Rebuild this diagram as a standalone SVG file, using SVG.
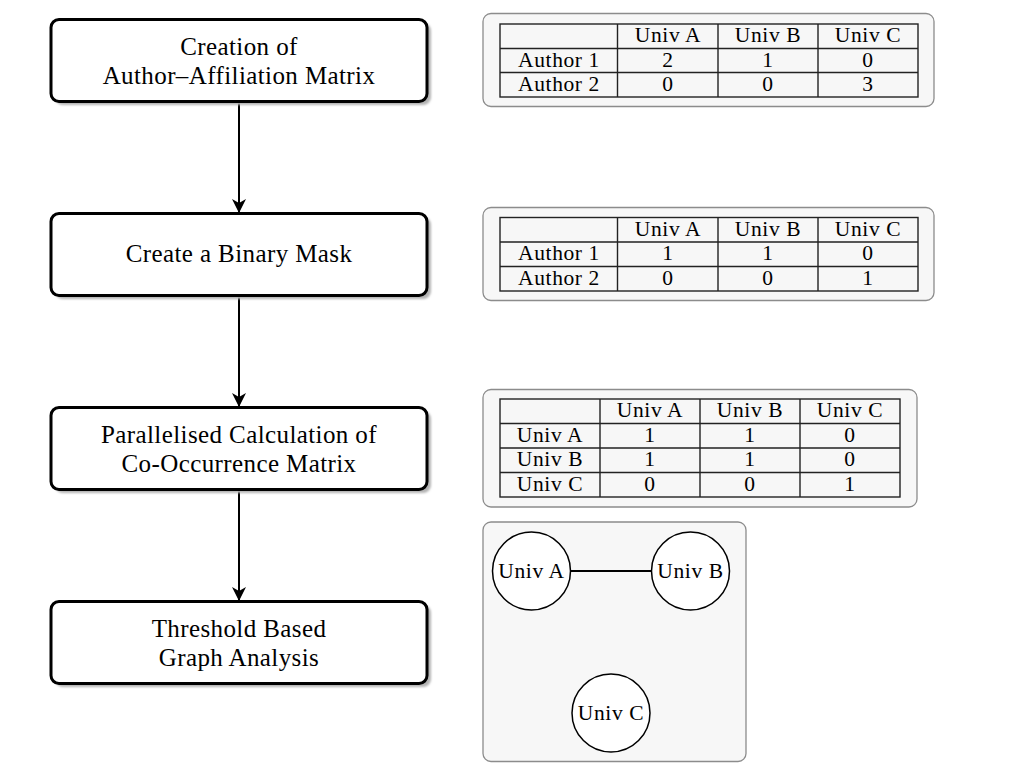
<svg xmlns="http://www.w3.org/2000/svg" width="1020" height="768" viewBox="0 0 1020 768">
<defs>
<style>
.box{fill:#fff;stroke:#000;stroke-width:3}
.shadow{fill:#b3b3b3}
.bt{font-family:"Liberation Serif","DejaVu Serif",serif;font-size:25px;letter-spacing:0.4px;text-anchor:middle;fill:#000}
.panel{fill:#f7f7f7;stroke:#8c8c8c;stroke-width:1.3}
.tbl{fill:none;stroke:#222;stroke-width:1.4}
.tt{font-family:"Liberation Serif","DejaVu Serif",serif;font-size:21.5px;letter-spacing:0.6px;text-anchor:middle;fill:#000}
.conn{stroke:#000;stroke-width:2;fill:none}
.circ{fill:#fff;stroke:#000;stroke-width:1.5}
</style>
<filter id="blur" x="-10%" y="-10%" width="120%" height="130%"><feGaussianBlur stdDeviation="1.2"/></filter>
<marker id="arr" viewBox="0 0 14 14" refX="13" refY="7" markerWidth="14" markerHeight="14" markerUnits="userSpaceOnUse" orient="auto">
<path d="M0,0 L14,7 L0,14 L4,7 Z" fill="#000"/>
</marker>
</defs>
<rect width="1020" height="768" fill="#fff"/>

<g id="connectors">
<line class="conn" x1="239" y1="102" x2="239" y2="212" marker-end="url(#arr)"/>
<line class="conn" x1="239" y1="296" x2="239" y2="406" marker-end="url(#arr)"/>
<line class="conn" x1="239" y1="490" x2="239" y2="600" marker-end="url(#arr)"/>
</g>

<g id="step1">
<rect class="shadow" x="55" y="23" width="376" height="82" rx="8" filter="url(#blur)"/>
<rect class="box" x="51" y="19.5" width="376" height="82" rx="8"/>
<text class="bt" x="239" y="55">Creation of</text>
<text class="bt" x="239" y="84">Author–Affiliation Matrix</text>
</g>
<g id="step2">
<rect class="shadow" x="55" y="217" width="376" height="82" rx="8" filter="url(#blur)"/>
<rect class="box" x="51" y="213.5" width="376" height="82" rx="8"/>
<text class="bt" x="239" y="262">Create a Binary Mask</text>
</g>
<g id="step3">
<rect class="shadow" x="55" y="411" width="376" height="82" rx="8" filter="url(#blur)"/>
<rect class="box" x="51" y="407.5" width="376" height="82" rx="8"/>
<text class="bt" x="239" y="443">Parallelised Calculation of</text>
<text class="bt" x="239" y="472">Co-Occurrence Matrix</text>
</g>
<g id="step4">
<rect class="shadow" x="55" y="605" width="376" height="82" rx="8" filter="url(#blur)"/>
<rect class="box" x="51" y="601.5" width="376" height="82" rx="8"/>
<text class="bt" x="239" y="637">Threshold Based</text>
<text class="bt" x="239" y="666">Graph Analysis</text>
</g>

<g id="table1">
<rect class="panel" x="483" y="13.5" width="451" height="93" rx="8"/>
<rect class="tbl" x="500" y="24" width="418" height="73"/>
<path class="tbl" d="M500,48.5H918M500,72.5H918M617.5,24V97M718,24V97M818,24V97"/>
<text class="tt" x="668" y="42">Univ A</text>
<text class="tt" x="768" y="42">Univ B</text>
<text class="tt" x="868" y="42">Univ C</text>
<text class="tt" x="559" y="67">Author 1</text>
<text class="tt" x="668" y="67">2</text>
<text class="tt" x="768" y="67">1</text>
<text class="tt" x="868" y="67">0</text>
<text class="tt" x="559" y="91">Author 2</text>
<text class="tt" x="668" y="91">0</text>
<text class="tt" x="768" y="91">0</text>
<text class="tt" x="868" y="91">3</text>
</g>

<g id="table2">
<rect class="panel" x="483" y="207.5" width="451" height="93" rx="8"/>
<rect class="tbl" x="500" y="217.5" width="418" height="73.5"/>
<path class="tbl" d="M500,242H918M500,266.5H918M617.5,217.5V291M718,217.5V291M818,217.5V291"/>
<text class="tt" x="668" y="236">Univ A</text>
<text class="tt" x="768" y="236">Univ B</text>
<text class="tt" x="868" y="236">Univ C</text>
<text class="tt" x="559" y="260">Author 1</text>
<text class="tt" x="668" y="260">1</text>
<text class="tt" x="768" y="260">1</text>
<text class="tt" x="868" y="260">0</text>
<text class="tt" x="559" y="285">Author 2</text>
<text class="tt" x="668" y="285">0</text>
<text class="tt" x="768" y="285">0</text>
<text class="tt" x="868" y="285">1</text>
</g>

<g id="table3">
<rect class="panel" x="483" y="389.5" width="434" height="117.5" rx="8"/>
<rect class="tbl" x="500" y="399" width="400" height="98"/>
<path class="tbl" d="M500,423.5H900M500,448H900M500,472.5H900M600,399V497M700,399V497M800,399V497"/>
<text class="tt" x="650" y="417">Univ A</text>
<text class="tt" x="750" y="417">Univ B</text>
<text class="tt" x="850" y="417">Univ C</text>
<text class="tt" x="550" y="442">Univ A</text>
<text class="tt" x="650" y="442">1</text>
<text class="tt" x="750" y="442">1</text>
<text class="tt" x="850" y="442">0</text>
<text class="tt" x="550" y="466">Univ B</text>
<text class="tt" x="650" y="466">1</text>
<text class="tt" x="750" y="466">1</text>
<text class="tt" x="850" y="466">0</text>
<text class="tt" x="550" y="491">Univ C</text>
<text class="tt" x="650" y="491">0</text>
<text class="tt" x="750" y="491">0</text>
<text class="tt" x="850" y="491">1</text>
</g>

<g id="graph">
<rect class="panel" x="483" y="522" width="263" height="239.5" rx="8"/>
<line x1="570" y1="571" x2="652" y2="571" stroke="#000" stroke-width="2.2"/>
<g id="univA">
<circle class="circ" cx="531.5" cy="571" r="39"/>
<text class="tt" x="531.5" y="578">Univ A</text>
</g>
<g id="univB">
<circle class="circ" cx="690.5" cy="571" r="39"/>
<text class="tt" x="690.5" y="578">Univ B</text>
</g>
<g id="univC">
<circle class="circ" cx="611" cy="713" r="39"/>
<text class="tt" x="611" y="720">Univ C</text>
</g>
</g>
</svg>
